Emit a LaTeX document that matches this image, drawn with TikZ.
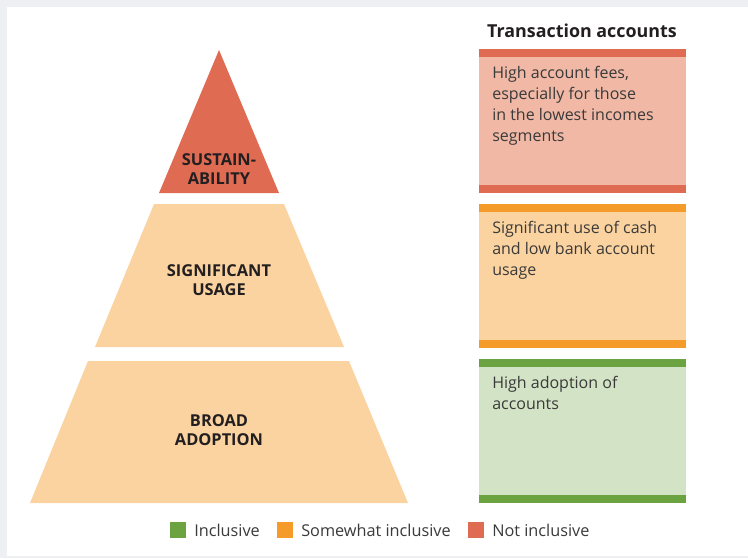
\documentclass[tikz,border=0pt]{standalone}
\usepackage{fontspec}
\setmainfont{Open Sans}
\usepackage{tikz}
\definecolor{NotInclColor}{HTML}{E06B53}
\definecolor{NotInclLight}{HTML}{F0B8A5}
\definecolor{SomeInclColor}{HTML}{F49B2A}
\definecolor{SomeInclLight}{HTML}{FBD3A0}
\definecolor{InclColor}{HTML}{6AA33F}
\definecolor{InclLight}{HTML}{D3E3C5}
\definecolor{FrameGray}{HTML}{EEEFF2}
\definecolor{TextGray}{HTML}{3A3A3A}
\definecolor{LabelGray}{HTML}{231F20}

\begin{document}
\begin{tikzpicture}[x=0.75pt,y=-0.75pt,
  lvl/.style={font=\bfseries\fontsize{12.3}{14}\selectfont,text=LabelGray,align=center,inner sep=0},
  boxtxt/.style={font=\fontsize{12}{15.75}\selectfont,text=TextGray,align=left,anchor=north west,inner sep=0},
  keybox/.style={fill=#1,minimum size=12pt,inner sep=0,anchor=north west},
  keytxt/.style={font=\fontsize{12.2}{14}\selectfont,text=TextGray,anchor=west,inner sep=0}]
% frame
\fill[FrameGray] (0,0) rectangle (748,558);
\fill[white] (7,7) rectangle (748,556);
\useasboundingbox (0,0) rectangle (748,558);
% pyramid
\fill[NotInclColor] (219,50) -- (279,193) -- (159,193) -- cycle;
\fill[SomeInclLight] (154,204) -- (284,204) -- (344,347) -- (95,347) -- cycle;
\fill[SomeInclLight] (88,361) -- (349,361) -- (408,503) -- (30,503) -- cycle;
\node[lvl] (sust) at (219,169) {SUSTAIN-\\ABILITY};
\node[lvl] (usage) at (219,280) {SIGNIFICANT\\USAGE};
\node[lvl] (adopt) at (219,430) {BROAD\\ADOPTION};
% boxes
\node[font=\bfseries\fontsize{13.4}{16}\selectfont,text=LabelGray] (title) at (582,31) {Transaction accounts};
\foreach \y/\dark/\light in {49/NotInclColor/NotInclLight,204/SomeInclColor/SomeInclLight,359/InclColor/InclLight} {
  \fill[\light] (479,\y) rectangle (686,\y+144);
  \fill[\dark] (479,\y) rectangle (686,\y+8);
  \fill[\dark] (479,\y+136) rectangle (686,\y+144);
}
\node[boxtxt] (fees) at (492,66) {High account fees,\\especially for those\\in the lowest incomes\\segments};
\node[boxtxt] (cash) at (492,221) {Significant use of cash\\and low bank account\\usage};
\node[boxtxt] (accts) at (492,376) {High adoption of\\accounts};
% legend
\node[keybox=InclColor] (k1) at (170,522) {};
\node[keytxt] (t1) at (194,530) {Inclusive};
\node[keybox=SomeInclColor] (k2) at (277,522) {};
\node[keytxt] (t2) at (301,530) {Somewhat inclusive};
\node[keybox=NotInclColor] (k3) at (468,522) {};
\node[keytxt] (t3) at (492,530) {Not inclusive};
\end{tikzpicture}
\end{document}
